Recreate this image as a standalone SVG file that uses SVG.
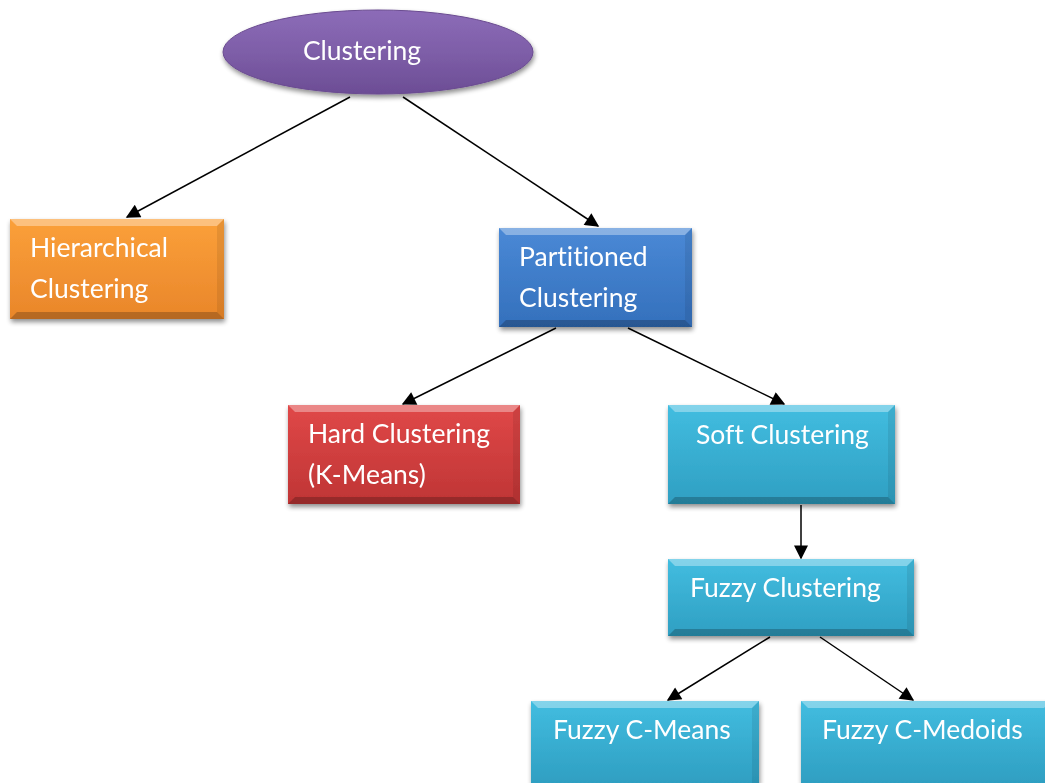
<svg xmlns="http://www.w3.org/2000/svg" width="1045" height="783" viewBox="0 0 1045 783">
  <style>
    .lbl { font-family: Lato, "Open Sans", "Liberation Sans", sans-serif; font-size: 26.5px; fill: #ffffff; font-variant-ligatures: none; }
    .edge { stroke: #000000; stroke-width: 1.5; fill: none; marker-end: url(#arrow); }
    .hi { fill: #ffffff; opacity: 0.35; }
    .lo { fill: #000000; opacity: 0.22; }
    .side { fill: #000000; opacity: 0.08; }
  </style>
  <defs>
    <marker id="arrow" viewBox="0 0 10 10" refX="9" refY="5" markerWidth="16" markerHeight="14" markerUnits="userSpaceOnUse" orient="auto">
      <path d="M0,0 L10,5 L0,10 Z" fill="#000000"/>
    </marker>
    <filter id="shadow" x="-10%" y="-10%" width="125%" height="130%">
      <feGaussianBlur in="SourceAlpha" stdDeviation="2.5"/>
      <feOffset dx="1" dy="3" result="b"/>
      <feComponentTransfer><feFuncA type="linear" slope="0.45"/></feComponentTransfer>
      <feMerge><feMergeNode/><feMergeNode in="SourceGraphic"/></feMerge>
    </filter>
    <linearGradient id="gPurple" x1="0" y1="0" x2="0" y2="1">
      <stop offset="0" stop-color="#8c6cb8"/>
      <stop offset="0.5" stop-color="#7e5ea8"/>
      <stop offset="1" stop-color="#6c4d95"/>
    </linearGradient>
    <linearGradient id="gOrange" x1="0" y1="0" x2="0" y2="1">
      <stop offset="0" stop-color="#fba03a"/>
      <stop offset="1" stop-color="#e9862a"/>
    </linearGradient>
    <linearGradient id="gBlue" x1="0" y1="0" x2="0" y2="1">
      <stop offset="0" stop-color="#4a89d6"/>
      <stop offset="1" stop-color="#3470bc"/>
    </linearGradient>
    <linearGradient id="gRed" x1="0" y1="0" x2="0" y2="1">
      <stop offset="0" stop-color="#e04848"/>
      <stop offset="1" stop-color="#bf3535"/>
    </linearGradient>
    <linearGradient id="gCyan" x1="0" y1="0" x2="0" y2="1">
      <stop offset="0" stop-color="#42bde0"/>
      <stop offset="1" stop-color="#2f9fc2"/>
    </linearGradient>
  </defs>

  <!-- connectors -->
  <g id="connectors">
    <line class="edge" x1="350" y1="97" x2="127" y2="217"/>
    <line class="edge" x1="403" y1="97" x2="598" y2="226"/>
    <line class="edge" x1="556" y1="328" x2="403" y2="404"/>
    <line class="edge" x1="628" y1="328" x2="784" y2="404"/>
    <line class="edge" x1="801" y1="505" x2="801" y2="558"/>
    <line class="edge" x1="770" y1="637" x2="668" y2="700"/>
    <line class="edge" x1="820" y1="637" x2="913" y2="700"/>
  </g>

  <!-- root -->
  <g id="clustering" filter="url(#shadow)">
    <ellipse cx="378" cy="52" rx="155" ry="42" fill="url(#gPurple)" stroke="#6a4b90" stroke-width="1"/>
    <text class="lbl" x="362" y="60" text-anchor="middle">Clustering</text>
  </g>

  <!-- Hierarchical -->
  <g id="hierarchical" filter="url(#shadow)">
    <rect x="10" y="219" width="214" height="100" fill="url(#gOrange)"/>
    <polygon class="hi" points="10,219 224,219 217,226 17,226"/>
    <polygon class="lo" points="10,319 224,319 217,312 17,312"/>
    <polygon class="side" points="224,219 224,319 217,312 217,226"/>
    <text class="lbl" x="30" y="257">Hierarchical</text>
    <text class="lbl" x="30" y="298">Clustering</text>
  </g>

  <!-- Partitioned -->
  <g id="partitioned" filter="url(#shadow)">
    <rect x="499" y="228" width="193" height="99" fill="url(#gBlue)"/>
    <polygon class="hi" points="499,228 692,228 685,235 506,235"/>
    <polygon class="lo" points="499,327 692,327 685,320 506,320"/>
    <polygon class="side" points="692,228 692,327 685,320 685,235"/>
    <text class="lbl" x="519" y="266">Partitioned</text>
    <text class="lbl" x="519" y="307">Clustering</text>
  </g>

  <!-- Hard -->
  <g id="hard" filter="url(#shadow)">
    <rect x="288" y="405" width="232" height="99" fill="url(#gRed)"/>
    <polygon class="hi" points="288,405 520,405 513,412 295,412"/>
    <polygon class="lo" points="288,504 520,504 513,497 295,497"/>
    <polygon class="side" points="520,405 520,504 513,497 513,412"/>
    <text class="lbl" x="308" y="443">Hard Clustering</text>
    <text class="lbl" x="308" y="484">(K-Means)</text>
  </g>

  <!-- Soft -->
  <g id="soft" filter="url(#shadow)">
    <rect x="668" y="405" width="227" height="99" fill="url(#gCyan)"/>
    <polygon class="hi" points="668,405 895,405 888,412 675,412"/>
    <polygon class="lo" points="668,504 895,504 888,497 675,497"/>
    <polygon class="side" points="895,405 895,504 888,497 888,412"/>
    <text class="lbl" x="696" y="444">Soft Clustering</text>
  </g>

  <!-- Fuzzy Clustering -->
  <g id="fuzzy" filter="url(#shadow)">
    <rect x="668" y="559" width="246" height="77" fill="url(#gCyan)"/>
    <polygon class="hi" points="668,559 914,559 907,566 675,566"/>
    <polygon class="lo" points="668,636 914,636 907,629 675,629"/>
    <polygon class="side" points="914,559 914,636 907,629 907,566"/>
    <text class="lbl" x="690" y="597">Fuzzy Clustering</text>
  </g>

  <!-- Fuzzy C-Means -->
  <g id="fcm" filter="url(#shadow)">
    <rect x="531" y="701" width="228" height="82" fill="url(#gCyan)"/>
    <polygon class="hi" points="531,701 759,701 752,708 538,708"/>
    <polygon class="side" points="759,701 759,783 752,783 752,708"/>
    <text class="lbl" x="553" y="739">Fuzzy C-Means</text>
  </g>

  <!-- Fuzzy C-Medoids -->
  <g id="fcmd" filter="url(#shadow)">
    <rect x="801" y="701" width="250" height="82" fill="url(#gCyan)"/>
    <polygon class="hi" points="801,701 1051,701 1044,708 808,708"/>
    <text class="lbl" x="822" y="739">Fuzzy C-Medoids</text>
  </g>
</svg>
